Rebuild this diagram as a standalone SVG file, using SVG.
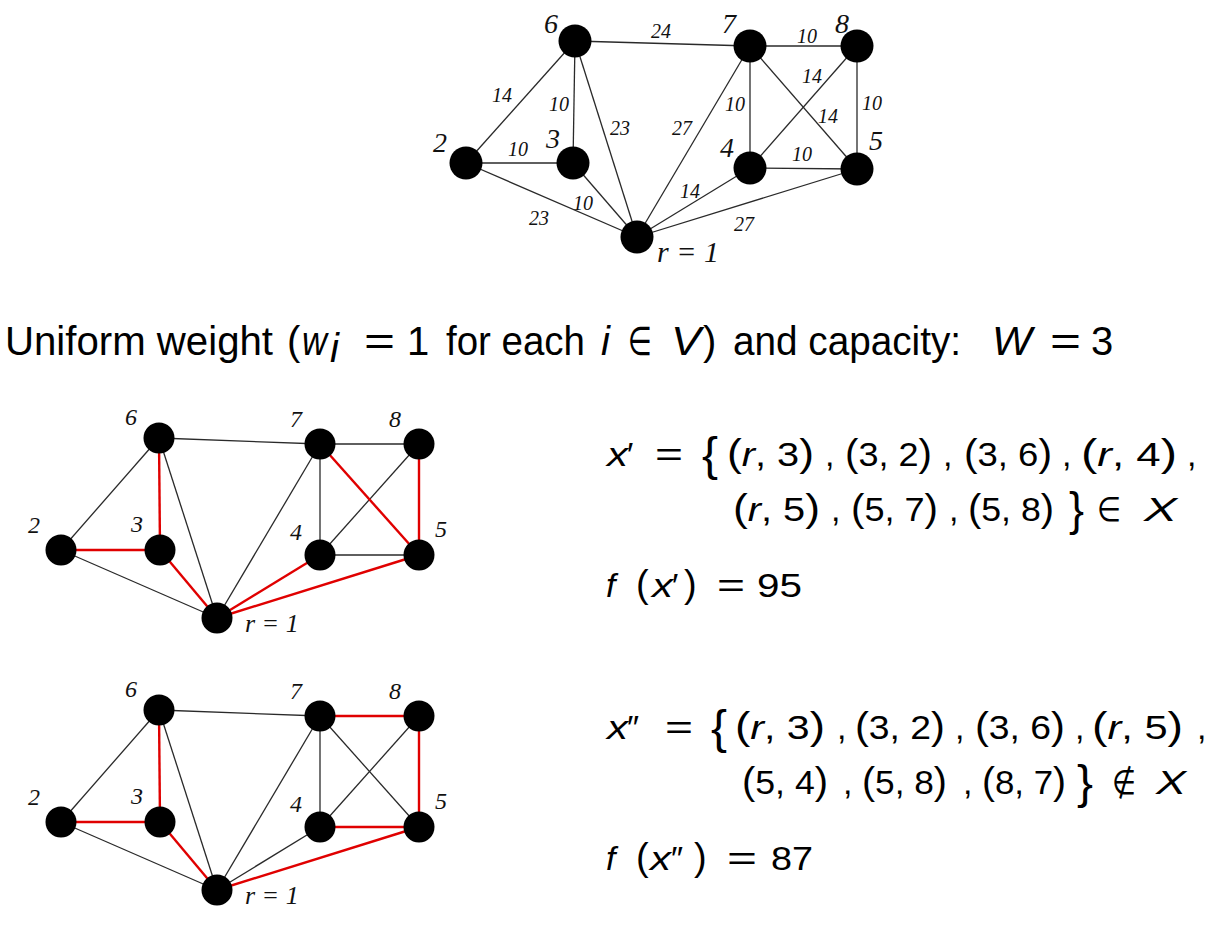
<svg xmlns="http://www.w3.org/2000/svg" width="1216" height="925" viewBox="0 0 1216 925">
<style>
.bg{fill:#fff}
.e{stroke:#2a2a2a;stroke-width:1.3;fill:none}
.r{stroke:#e00000;stroke-width:2.4;fill:none}
.n{fill:#000}
.lab{font-family:"Liberation Serif",serif;font-style:italic;fill:#111;text-anchor:middle}
.big{font-size:28px}
.mid{font-size:24px}
.wl{font-family:"Liberation Serif",serif;font-style:italic;font-size:20px;fill:#111;text-anchor:middle}
.t{font-family:"Liberation Sans","DejaVu Sans",sans-serif;font-size:40px;fill:#000}
.m{font-family:"Liberation Sans","DejaVu Sans",sans-serif;font-size:34px;fill:#000}
.i{font-style:italic}
.p{font-size:38px}
.br{font-size:46px}
</style>
<rect class="bg" x="0" y="0" width="1216" height="925"/>

<!-- ===== Top graph ===== -->
<g id="top-edges">
<line class="e" x1="575" y1="41" x2="750" y2="46"/>
<line class="e" x1="750" y1="46" x2="857" y2="46"/>
<line class="e" x1="466" y1="163" x2="575" y2="41"/>
<line class="e" x1="575" y1="41" x2="573" y2="163"/>
<line class="e" x1="575" y1="41" x2="637" y2="237"/>
<line class="e" x1="466" y1="163" x2="573" y2="163"/>
<line class="e" x1="466" y1="163" x2="637" y2="237"/>
<line class="e" x1="573" y1="163" x2="637" y2="237"/>
<line class="e" x1="750" y1="46" x2="637" y2="237"/>
<line class="e" x1="750" y1="46" x2="750" y2="168"/>
<line class="e" x1="750" y1="46" x2="857" y2="169"/>
<line class="e" x1="857" y1="46" x2="750" y2="168"/>
<line class="e" x1="857" y1="46" x2="857" y2="169"/>
<line class="e" x1="750" y1="168" x2="857" y2="169"/>
<line class="e" x1="750" y1="168" x2="637" y2="237"/>
<line class="e" x1="857" y1="169" x2="637" y2="237"/>
<text class="wl" x="661" y="38">24</text>
<text class="wl" x="807" y="43">10</text>
<text class="wl" x="502" y="102">14</text>
<text class="wl" x="559" y="111">10</text>
<text class="wl" x="620" y="135">23</text>
<text class="wl" x="682" y="135">27</text>
<text class="wl" x="735" y="111">10</text>
<text class="wl" x="812" y="83">14</text>
<text class="wl" x="828" y="123">14</text>
<text class="wl" x="872" y="110">10</text>
<text class="wl" x="518" y="156">10</text>
<text class="wl" x="802" y="161">10</text>
<text class="wl" x="539" y="225">23</text>
<text class="wl" x="583" y="210">10</text>
<text class="wl" x="690" y="198">14</text>
<text class="wl" x="744" y="231">27</text>
</g>
<g id="top-node-1"><circle class="n" cx="637" cy="237" r="16.5"/><text class="lab" x="657" y="262" font-size="30" style="text-anchor:start">r = 1</text></g>
<g id="top-node-2"><circle class="n" cx="466" cy="163" r="16.5"/><text class="lab big" x="440" y="152">2</text></g>
<g id="top-node-3"><circle class="n" cx="573" cy="163" r="16.5"/><text class="lab big" x="553" y="148">3</text></g>
<g id="top-node-4"><circle class="n" cx="750" cy="168" r="16.5"/><text class="lab big" x="727" y="157">4</text></g>
<g id="top-node-5"><circle class="n" cx="857" cy="169" r="16.5"/><text class="lab big" x="876" y="150">5</text></g>
<g id="top-node-6"><circle class="n" cx="575" cy="41" r="16.5"/><text class="lab big" x="551" y="33">6</text></g>
<g id="top-node-7"><circle class="n" cx="750" cy="46" r="16.5"/><text class="lab big" x="729" y="33">7</text></g>
<g id="top-node-8"><circle class="n" cx="857" cy="46" r="16.5"/><text class="lab big" x="842" y="33">8</text></g>

<!-- ===== Title ===== -->
<g id="title">
<text class="t" x="5" y="355" textLength="268" lengthAdjust="spacingAndGlyphs">Uniform weight</text>
<text class="t" x="287" y="355">(</text>
<text class="t i" x="302" y="355" textLength="25" lengthAdjust="spacingAndGlyphs">w</text>
<text class="t i" x="330" y="362" font-size="24">i</text>
<text class="t" x="364" y="355" textLength="31" lengthAdjust="spacingAndGlyphs">=</text>
<text class="t" x="407" y="355">1</text>
<text class="t" x="446" y="355" textLength="139" lengthAdjust="spacingAndGlyphs">for each</text>
<text class="t i" x="601" y="355">i</text>
<text class="t" x="628" y="355" textLength="24" lengthAdjust="spacingAndGlyphs">∈</text>
<text class="t i" x="671" y="355" textLength="30" lengthAdjust="spacingAndGlyphs">V</text>
<text class="t" x="703" y="355">)</text>
<text class="t" x="733" y="355" textLength="228" lengthAdjust="spacingAndGlyphs">and capacity:</text>
<text class="t i" x="992" y="355" textLength="40" lengthAdjust="spacingAndGlyphs">W</text>
<text class="t" x="1050" y="355" textLength="31" lengthAdjust="spacingAndGlyphs">=</text>
<text class="t" x="1091" y="355">3</text>
</g>

<!-- ===== Middle graph (x') ===== -->
<g id="mid-edges">
<line class="e" x1="159" y1="438" x2="320" y2="444"/>
<line class="e" x1="320" y1="444" x2="419" y2="444"/>
<line class="e" x1="61" y1="550" x2="159" y2="438"/>
<line class="e" x1="159" y1="438" x2="217" y2="618"/>
<line class="e" x1="61" y1="550" x2="217" y2="618"/>
<line class="e" x1="320" y1="444" x2="217" y2="618"/>
<line class="e" x1="320" y1="444" x2="320" y2="555"/>
<line class="e" x1="419" y1="444" x2="320" y2="555"/>
<line class="e" x1="320" y1="555" x2="419" y2="555"/>
<line class="r" x1="159" y1="438" x2="160" y2="550"/>
<line class="r" x1="61" y1="550" x2="160" y2="550"/>
<line class="r" x1="160" y1="550" x2="217" y2="618"/>
<line class="r" x1="217" y1="618" x2="320" y2="555"/>
<line class="r" x1="217" y1="618" x2="419" y2="555"/>
<line class="r" x1="320" y1="444" x2="419" y2="555"/>
<line class="r" x1="419" y1="444" x2="419" y2="555"/>
</g>
<g id="mid-node-1"><circle class="n" cx="217" cy="618" r="15.5"/><text class="lab" x="245" y="632" font-size="26" style="text-anchor:start">r = 1</text></g>
<g id="mid-node-2"><circle class="n" cx="61" cy="550" r="15.5"/><text class="lab mid" x="34" y="533">2</text></g>
<g id="mid-node-3"><circle class="n" cx="160" cy="550" r="15.5"/><text class="lab mid" x="137" y="532">3</text></g>
<g id="mid-node-4"><circle class="n" cx="320" cy="555" r="15.5"/><text class="lab mid" x="296" y="540">4</text></g>
<g id="mid-node-5"><circle class="n" cx="419" cy="555" r="15.5"/><text class="lab mid" x="441" y="537">5</text></g>
<g id="mid-node-6"><circle class="n" cx="159" cy="438" r="15.5"/><text class="lab mid" x="131" y="425">6</text></g>
<g id="mid-node-7"><circle class="n" cx="320" cy="444" r="15.5"/><text class="lab mid" x="296" y="427">7</text></g>
<g id="mid-node-8"><circle class="n" cx="419" cy="444" r="15.5"/><text class="lab mid" x="395" y="427">8</text></g>

<!-- ===== Bottom graph (x'') ===== -->
<g id="bot-edges">
<line class="e" x1="159" y1="710" x2="320" y2="716"/>
<line class="e" x1="61" y1="822" x2="159" y2="710"/>
<line class="e" x1="159" y1="710" x2="217" y2="890"/>
<line class="e" x1="61" y1="822" x2="217" y2="890"/>
<line class="e" x1="320" y1="716" x2="217" y2="890"/>
<line class="e" x1="320" y1="716" x2="320" y2="827"/>
<line class="e" x1="320" y1="716" x2="419" y2="827"/>
<line class="e" x1="419" y1="716" x2="320" y2="827"/>
<line class="e" x1="320" y1="827" x2="217" y2="890"/>
<line class="r" x1="159" y1="710" x2="160" y2="822"/>
<line class="r" x1="61" y1="822" x2="160" y2="822"/>
<line class="r" x1="160" y1="822" x2="217" y2="890"/>
<line class="r" x1="217" y1="890" x2="419" y2="827"/>
<line class="r" x1="320" y1="827" x2="419" y2="827"/>
<line class="r" x1="419" y1="716" x2="419" y2="827"/>
<line class="r" x1="320" y1="716" x2="419" y2="716"/>
</g>
<g id="bot-node-1"><circle class="n" cx="217" cy="890" r="15.5"/><text class="lab" x="245" y="904" font-size="26" style="text-anchor:start">r = 1</text></g>
<g id="bot-node-2"><circle class="n" cx="61" cy="822" r="15.5"/><text class="lab mid" x="34" y="805">2</text></g>
<g id="bot-node-3"><circle class="n" cx="160" cy="822" r="15.5"/><text class="lab mid" x="137" y="804">3</text></g>
<g id="bot-node-4"><circle class="n" cx="320" cy="827" r="15.5"/><text class="lab mid" x="296" y="812">4</text></g>
<g id="bot-node-5"><circle class="n" cx="419" cy="827" r="15.5"/><text class="lab mid" x="441" y="809">5</text></g>
<g id="bot-node-6"><circle class="n" cx="159" cy="710" r="15.5"/><text class="lab mid" x="131" y="697">6</text></g>
<g id="bot-node-7"><circle class="n" cx="320" cy="716" r="15.5"/><text class="lab mid" x="296" y="699">7</text></g>
<g id="bot-node-8"><circle class="n" cx="419" cy="716" r="15.5"/><text class="lab mid" x="395" y="699">8</text></g>

<!-- ===== Formula x' ===== -->
<g id="formula-x1">
<text class="m i" x="607" y="466" textLength="21" lengthAdjust="spacingAndGlyphs">x</text>
<text class="m" x="627" y="466">′</text>
<text class="m" x="655" y="466" textLength="28" lengthAdjust="spacingAndGlyphs">=</text>
<text class="m br" x="702" y="470" textLength="16" lengthAdjust="spacingAndGlyphs">{</text>
<text class="m" x="727" y="466" textLength="87" lengthAdjust="spacingAndGlyphs"><tspan class="p">(</tspan><tspan class="i">r</tspan>, 3<tspan class="p">)</tspan></text>
<text class="m" x="825" y="466">,</text>
<text class="m" x="845" y="466" textLength="87" lengthAdjust="spacingAndGlyphs"><tspan class="p">(</tspan>3, 2<tspan class="p">)</tspan></text>
<text class="m" x="943" y="466">,</text>
<text class="m" x="964" y="466" textLength="88" lengthAdjust="spacingAndGlyphs"><tspan class="p">(</tspan>3, 6<tspan class="p">)</tspan></text>
<text class="m" x="1062" y="466">,</text>
<text class="m" x="1081" y="466" textLength="96" lengthAdjust="spacingAndGlyphs"><tspan class="p">(</tspan><tspan class="i">r</tspan>, 4<tspan class="p">)</tspan></text>
<text class="m" x="1187" y="466">,</text>

<text class="m" x="733" y="521" textLength="87" lengthAdjust="spacingAndGlyphs"><tspan class="p">(</tspan><tspan class="i">r</tspan>, 5<tspan class="p">)</tspan></text>
<text class="m" x="831" y="521">,</text>
<text class="m" x="851" y="521" textLength="87" lengthAdjust="spacingAndGlyphs"><tspan class="p">(</tspan>5, 7<tspan class="p">)</tspan></text>
<text class="m" x="949" y="521">,</text>
<text class="m" x="968" y="521" textLength="86" lengthAdjust="spacingAndGlyphs"><tspan class="p">(</tspan>5, 8<tspan class="p">)</tspan></text>
<text class="m br" x="1069" y="525" textLength="15" lengthAdjust="spacingAndGlyphs">}</text>
<text class="m" x="1097" y="521" textLength="24" lengthAdjust="spacingAndGlyphs">∈</text>
<text class="m i" x="1144" y="521" textLength="33" lengthAdjust="spacingAndGlyphs">X</text>

<text class="m i" x="606" y="597">f</text>
<text class="m p" x="636" y="597">(</text>
<text class="m i" x="652" y="597" textLength="21" lengthAdjust="spacingAndGlyphs">x</text>
<text class="m" x="672" y="597">′</text>
<text class="m p" x="684" y="597">)</text>
<text class="m" x="717" y="597" textLength="28" lengthAdjust="spacingAndGlyphs">=</text>
<text class="m" x="757" y="597" textLength="45" lengthAdjust="spacingAndGlyphs">95</text>
</g>

<!-- ===== Formula x'' ===== -->
<g id="formula-x2">
<text class="m i" x="607" y="739" textLength="21" lengthAdjust="spacingAndGlyphs">x</text>
<text class="m" x="627" y="739">″</text>
<text class="m" x="665" y="739" textLength="28" lengthAdjust="spacingAndGlyphs">=</text>
<text class="m br" x="711" y="743" textLength="16" lengthAdjust="spacingAndGlyphs">{</text>
<text class="m" x="735" y="739" textLength="90" lengthAdjust="spacingAndGlyphs"><tspan class="p">(</tspan><tspan class="i">r</tspan>, 3<tspan class="p">)</tspan></text>
<text class="m" x="837" y="739">,</text>
<text class="m" x="855" y="739" textLength="90" lengthAdjust="spacingAndGlyphs"><tspan class="p">(</tspan>3, 2<tspan class="p">)</tspan></text>
<text class="m" x="955" y="739">,</text>
<text class="m" x="975" y="739" textLength="90" lengthAdjust="spacingAndGlyphs"><tspan class="p">(</tspan>3, 6<tspan class="p">)</tspan></text>
<text class="m" x="1075" y="739">,</text>
<text class="m" x="1092" y="739" textLength="91" lengthAdjust="spacingAndGlyphs"><tspan class="p">(</tspan><tspan class="i">r</tspan>, 5<tspan class="p">)</tspan></text>
<text class="m" x="1197" y="739">,</text>

<text class="m" x="742" y="794" textLength="86" lengthAdjust="spacingAndGlyphs"><tspan class="p">(</tspan>5, 4<tspan class="p">)</tspan></text>
<text class="m" x="843" y="794">,</text>
<text class="m" x="862" y="794" textLength="85" lengthAdjust="spacingAndGlyphs"><tspan class="p">(</tspan>5, 8<tspan class="p">)</tspan></text>
<text class="m" x="963" y="794">,</text>
<text class="m" x="982" y="794" textLength="84" lengthAdjust="spacingAndGlyphs"><tspan class="p">(</tspan>8, 7<tspan class="p">)</tspan></text>
<text class="m br" x="1077" y="798" textLength="16" lengthAdjust="spacingAndGlyphs">}</text>
<text class="m" x="1112" y="794" textLength="24" lengthAdjust="spacingAndGlyphs">∉</text>
<text class="m i" x="1156" y="794" textLength="30" lengthAdjust="spacingAndGlyphs">X</text>

<text class="m i" x="606" y="870">f</text>
<text class="m p" x="636" y="870">(</text>
<text class="m i" x="650" y="870" textLength="21" lengthAdjust="spacingAndGlyphs">x</text>
<text class="m" x="671" y="870">″</text>
<text class="m p" x="694" y="870">)</text>
<text class="m" x="727" y="870" textLength="30" lengthAdjust="spacingAndGlyphs">=</text>
<text class="m" x="771" y="870" textLength="42" lengthAdjust="spacingAndGlyphs">87</text>
</g>
</svg>
